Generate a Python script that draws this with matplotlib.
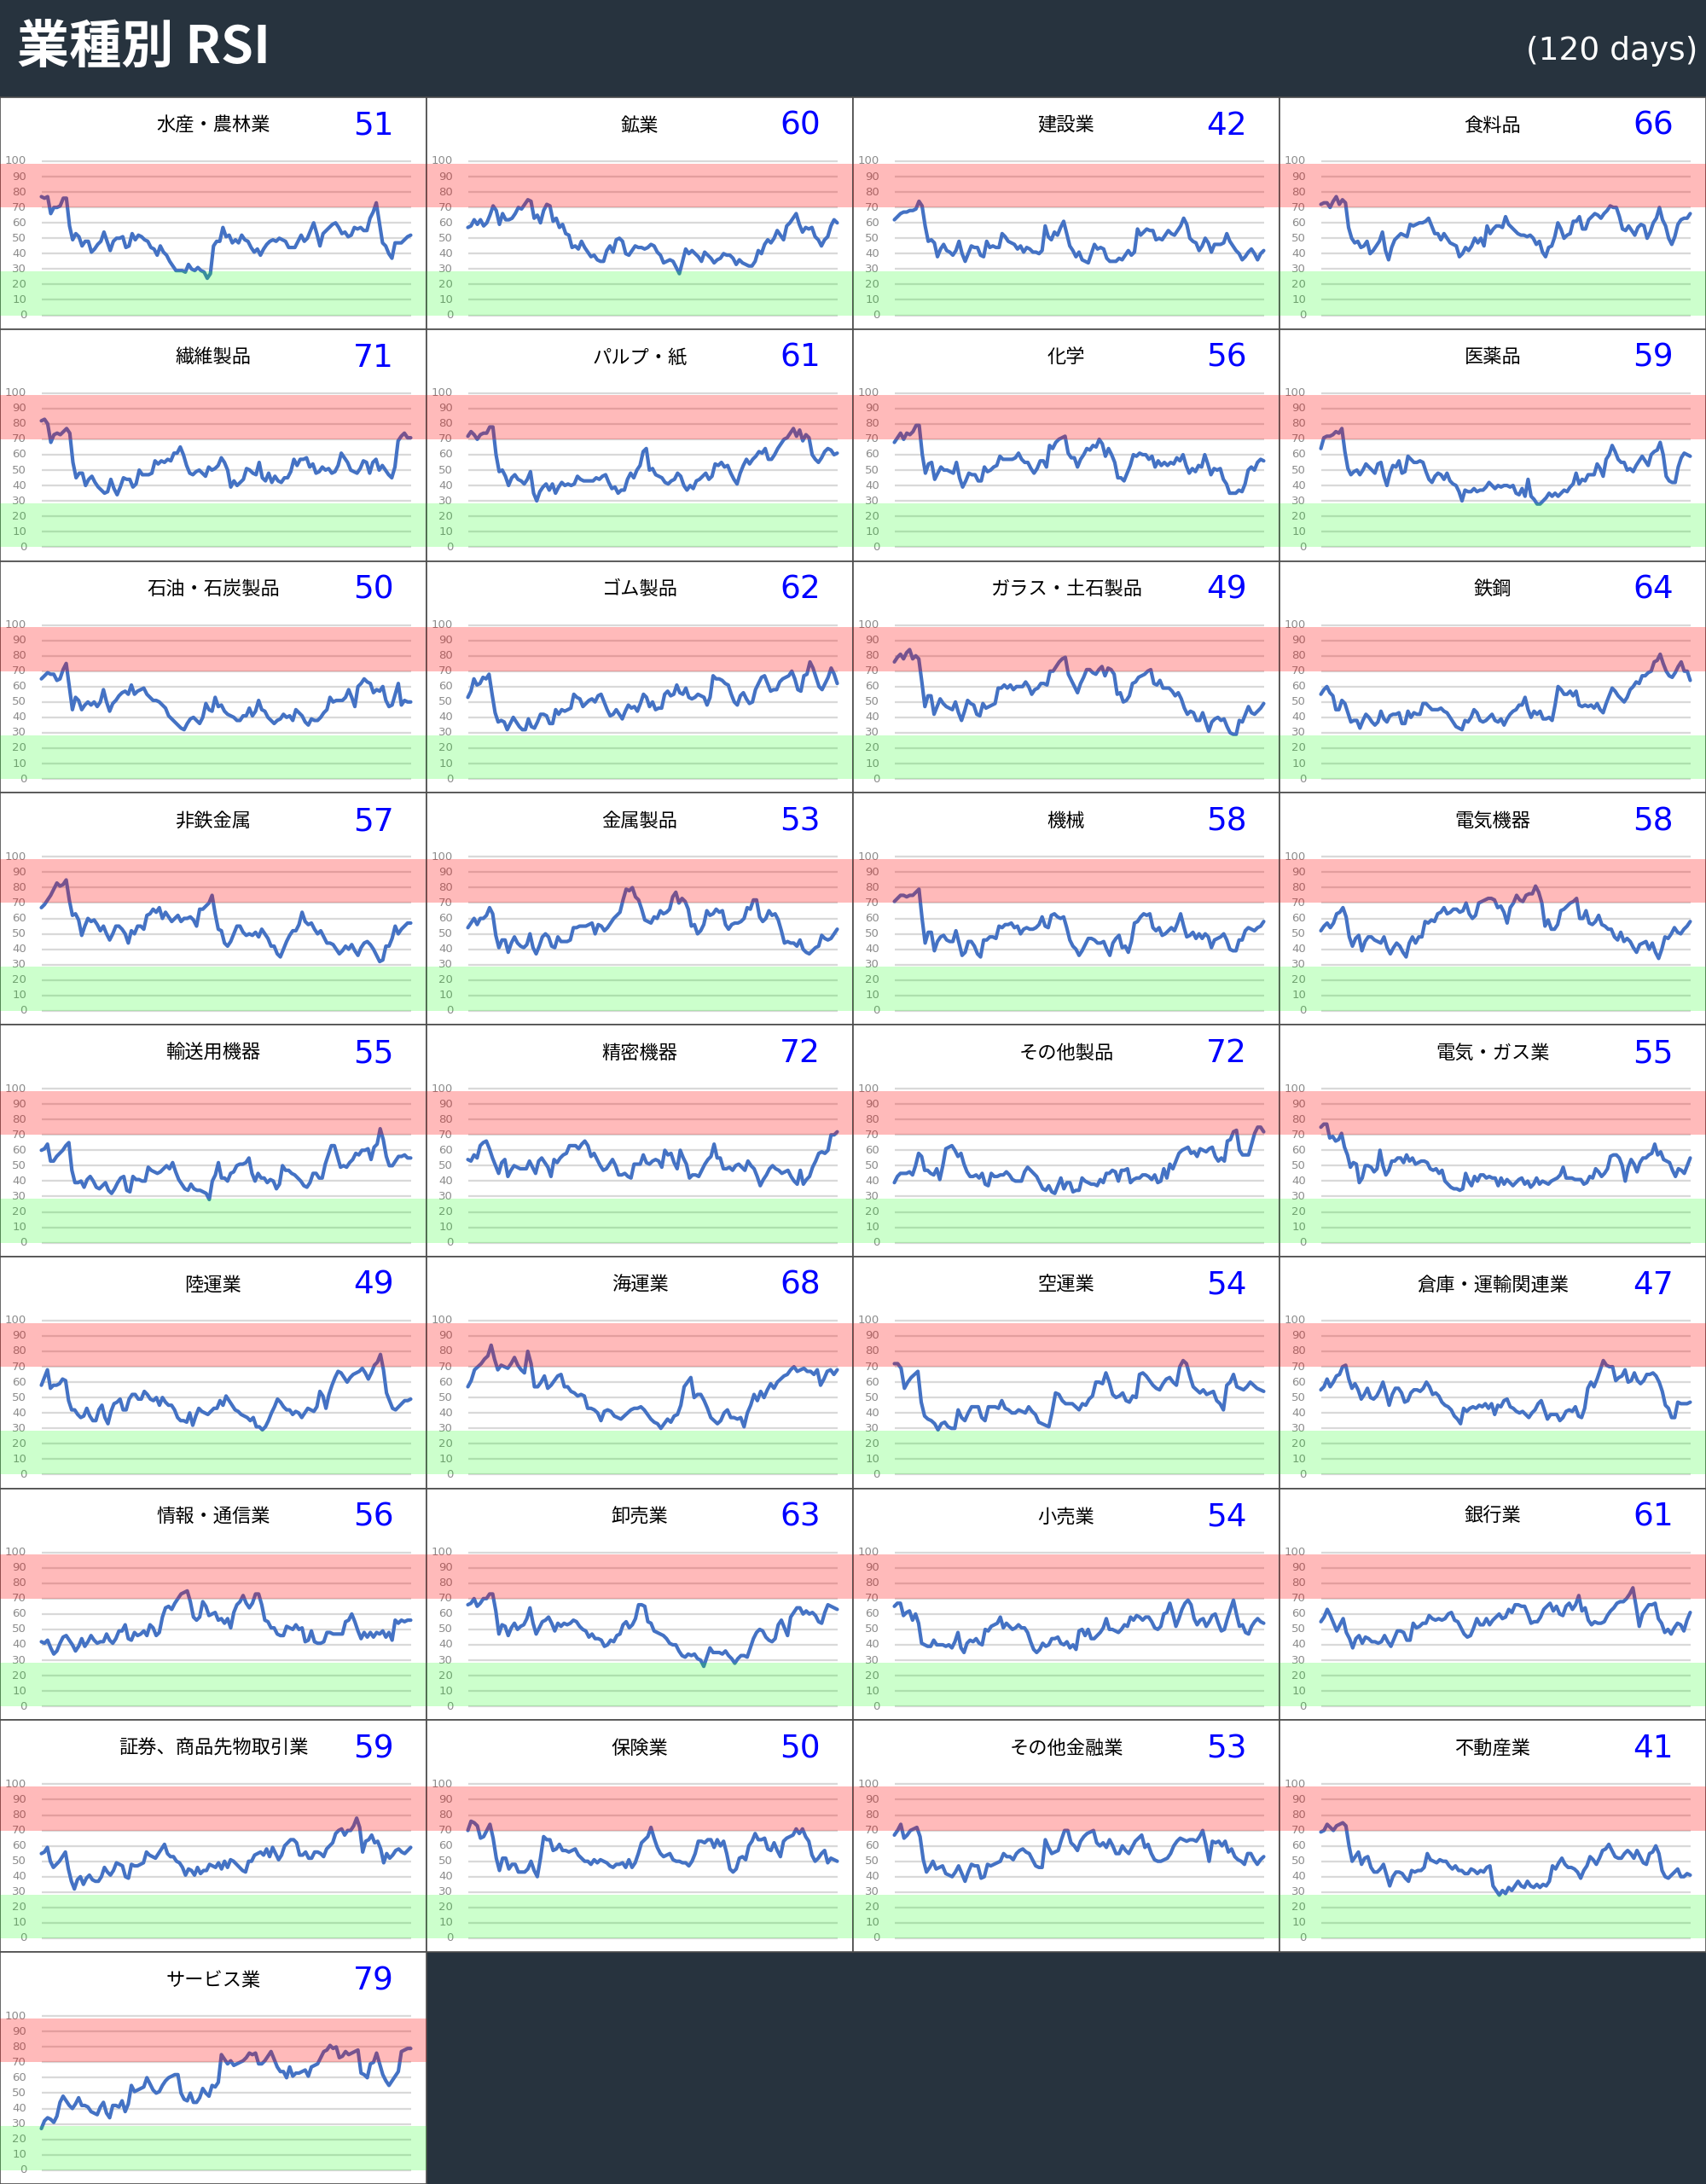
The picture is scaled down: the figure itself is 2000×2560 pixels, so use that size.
import numpy as np
import matplotlib
matplotlib.use("Agg")
import matplotlib.pyplot as plt
from matplotlib import font_manager
import matplotlib.transforms as mtransforms

# Sector names and latest RSI value shown at the top right of each panel
sectors = ["水産・農林業", "鉱業", "建設業", "食料品",
           "繊維製品", "パルプ・紙", "化学", "医薬品",
           "石油・石炭製品", "ゴム製品", "ガラス・土石製品", "鉄鋼",
           "非鉄金属", "金属製品", "機械", "電気機器",
           "輸送用機器", "精密機器", "その他製品", "電気・ガス業",
           "陸運業", "海運業", "空運業", "倉庫・運輸関連業",
           "情報・通信業", "卸売業", "小売業", "銀行業",
           "証券、商品先物取引業", "保険業", "その他金融業", "不動産業",
           "サービス業"]
latest = [51, 60, 42, 66, 71, 61, 56, 59, 50, 62, 49, 64, 57, 53, 58, 58,
          55, 72, 72, 55, 49, 68, 54, 47, 56, 63, 54, 61, 59, 50, 53, 41, 79]

# RSI over the last 120 days, one list per sector
rsi_01 = [77, 76, 77, 66, 70, 70, 71, 76, 76, 58, 49, 53, 51, 45, 48, 48, 41, 43, 46, 48, 54, 48, 42, 48, 50, 50, 51, 44, 45, 53, 49, 52, 51, 49, 48, 44, 43, 39, 45, 41, 39, 35, 32, 29, 29, 29, 28, 33, 30, 29, 31, 29, 28, 24, 27, 45, 48, 48, 57, 51, 52, 47, 49, 47, 52, 49, 48, 44, 41, 43, 39, 43, 46, 48, 49, 48, 50, 49, 48, 44, 44, 44, 48, 52, 48, 50, 55, 60, 53, 45, 53, 55, 57, 59, 60, 57, 53, 54, 51, 52, 57, 56, 57, 55, 55, 63, 67, 73, 60, 47, 45, 40, 37, 47, 47, 47, 49, 51, 52]
rsi_02 = [57, 58, 62, 59, 62, 58, 60, 65, 71, 68, 59, 66, 62, 62, 63, 66, 70, 69, 72, 75, 74, 63, 65, 60, 68, 72, 71, 61, 63, 57, 59, 53, 52, 44, 45, 43, 48, 44, 41, 38, 39, 36, 35, 35, 42, 45, 41, 49, 50, 48, 40, 39, 42, 45, 44, 44, 43, 44, 46, 45, 41, 39, 34, 35, 36, 35, 31, 27, 35, 43, 40, 42, 40, 38, 35, 41, 39, 37, 34, 36, 37, 40, 39, 39, 37, 33, 36, 34, 33, 32, 32, 35, 42, 40, 46, 49, 47, 50, 55, 52, 49, 58, 60, 63, 66, 59, 54, 57, 56, 57, 51, 49, 45, 49, 51, 58, 62, 60]
rsi_03 = [62, 64, 66, 67, 67, 68, 68, 69, 74, 71, 58, 48, 49, 47, 38, 43, 46, 42, 41, 39, 42, 48, 40, 35, 40, 45, 44, 44, 39, 38, 48, 44, 45, 44, 44, 53, 51, 48, 47, 46, 43, 45, 41, 44, 43, 41, 41, 40, 42, 58, 51, 49, 54, 52, 57, 61, 53, 45, 42, 38, 41, 36, 35, 34, 40, 46, 43, 44, 43, 37, 35, 35, 35, 37, 36, 39, 42, 39, 41, 56, 52, 54, 56, 55, 55, 49, 50, 49, 52, 55, 53, 52, 55, 58, 63, 59, 50, 48, 47, 42, 45, 50, 47, 41, 46, 46, 46, 47, 53, 48, 45, 42, 40, 36, 38, 41, 43, 40, 36, 40, 42]
rsi_04 = [72, 73, 73, 70, 74, 77, 72, 75, 73, 57, 50, 47, 48, 44, 45, 48, 40, 42, 45, 48, 54, 42, 36, 44, 49, 51, 53, 52, 51, 59, 58, 59, 60, 60, 61, 63, 58, 53, 53, 49, 53, 50, 47, 46, 45, 38, 40, 44, 42, 45, 50, 47, 50, 45, 58, 53, 56, 58, 58, 57, 64, 59, 57, 55, 53, 52, 52, 51, 52, 50, 46, 48, 41, 38, 44, 45, 51, 60, 56, 50, 52, 53, 61, 61, 64, 56, 56, 62, 64, 66, 65, 63, 66, 68, 71, 70, 70, 64, 56, 55, 58, 55, 52, 57, 59, 58, 50, 54, 60, 63, 70, 62, 58, 50, 46, 51, 59, 62, 63, 63, 66]
rsi_05 = [82, 83, 80, 68, 73, 74, 73, 75, 77, 74, 55, 45, 48, 48, 40, 44, 46, 42, 39, 37, 35, 36, 44, 38, 34, 39, 45, 44, 44, 39, 41, 50, 47, 47, 47, 48, 56, 54, 56, 55, 57, 56, 61, 61, 65, 60, 53, 48, 47, 49, 50, 48, 46, 52, 50, 51, 53, 58, 55, 50, 39, 43, 40, 42, 44, 51, 50, 48, 47, 55, 45, 43, 48, 42, 46, 43, 42, 45, 45, 49, 57, 53, 57, 57, 58, 52, 54, 48, 49, 52, 50, 51, 48, 49, 53, 61, 58, 55, 50, 49, 48, 51, 56, 55, 48, 55, 57, 50, 53, 50, 47, 45, 52, 69, 72, 74, 71, 71]
rsi_06 = [72, 75, 73, 70, 73, 74, 74, 78, 78, 60, 49, 50, 46, 40, 45, 47, 44, 43, 41, 44, 49, 35, 30, 36, 39, 41, 37, 41, 35, 39, 42, 40, 41, 40, 41, 46, 44, 43, 43, 43, 43, 45, 44, 46, 47, 42, 38, 39, 35, 37, 37, 44, 48, 45, 50, 53, 62, 64, 50, 51, 47, 46, 45, 42, 41, 43, 44, 48, 46, 40, 37, 40, 38, 43, 44, 46, 48, 44, 46, 54, 53, 55, 52, 53, 48, 44, 41, 48, 53, 57, 54, 57, 59, 62, 61, 64, 57, 57, 60, 64, 67, 70, 71, 74, 77, 72, 76, 69, 73, 71, 60, 57, 55, 58, 62, 64, 63, 60, 61]
rsi_07 = [68, 71, 74, 70, 74, 73, 75, 79, 79, 60, 48, 54, 55, 44, 48, 52, 50, 50, 49, 48, 55, 45, 39, 43, 48, 47, 47, 43, 43, 52, 49, 50, 52, 53, 59, 57, 57, 57, 57, 58, 61, 57, 55, 55, 51, 48, 51, 56, 56, 52, 66, 64, 68, 70, 71, 72, 61, 58, 58, 52, 57, 60, 64, 63, 66, 65, 70, 67, 59, 64, 60, 55, 45, 45, 43, 48, 53, 60, 59, 61, 60, 60, 57, 59, 52, 56, 53, 55, 53, 55, 54, 58, 56, 60, 53, 48, 51, 49, 53, 52, 60, 54, 47, 51, 50, 51, 44, 41, 35, 35, 35, 37, 36, 41, 50, 52, 50, 55, 57, 56]
rsi_08 = [64, 71, 72, 72, 73, 75, 74, 77, 62, 51, 47, 49, 50, 47, 50, 54, 52, 50, 48, 54, 55, 46, 40, 48, 53, 52, 56, 48, 49, 59, 57, 55, 55, 56, 55, 49, 44, 42, 46, 48, 47, 44, 48, 43, 41, 40, 36, 30, 37, 36, 36, 38, 36, 37, 37, 39, 42, 40, 38, 40, 39, 40, 40, 39, 40, 35, 34, 38, 33, 44, 33, 31, 28, 28, 30, 32, 35, 33, 35, 33, 35, 37, 36, 39, 41, 48, 41, 44, 43, 47, 47, 47, 54, 51, 46, 57, 60, 66, 62, 57, 55, 55, 50, 51, 49, 53, 56, 59, 56, 53, 60, 62, 63, 68, 60, 46, 43, 42, 42, 52, 58, 61, 60, 59]
rsi_09 = [65, 67, 69, 68, 68, 64, 65, 71, 75, 60, 45, 53, 51, 45, 48, 50, 48, 50, 47, 50, 58, 50, 44, 49, 51, 54, 56, 57, 55, 61, 55, 57, 58, 59, 55, 53, 51, 51, 50, 48, 46, 41, 39, 37, 35, 33, 32, 36, 39, 40, 38, 36, 40, 49, 45, 44, 53, 47, 48, 44, 42, 41, 40, 38, 38, 41, 41, 46, 41, 44, 51, 45, 44, 40, 38, 36, 38, 39, 42, 40, 41, 38, 45, 43, 41, 37, 35, 39, 38, 38, 40, 43, 45, 53, 50, 51, 51, 51, 53, 58, 53, 47, 60, 62, 65, 63, 62, 56, 58, 57, 60, 51, 47, 48, 55, 62, 48, 51, 50, 50]
rsi_10 = [53, 57, 65, 61, 62, 66, 65, 68, 55, 43, 37, 38, 37, 32, 36, 40, 37, 34, 32, 32, 39, 34, 33, 37, 42, 42, 41, 36, 36, 45, 42, 45, 44, 45, 46, 55, 53, 52, 47, 49, 51, 52, 50, 54, 55, 50, 45, 41, 42, 45, 42, 39, 44, 48, 46, 47, 44, 49, 55, 53, 47, 50, 45, 46, 46, 55, 57, 54, 55, 61, 56, 55, 59, 53, 52, 53, 55, 54, 53, 48, 53, 67, 65, 65, 64, 62, 61, 55, 50, 48, 54, 56, 52, 49, 50, 58, 62, 66, 67, 62, 57, 58, 58, 63, 65, 66, 67, 70, 65, 58, 57, 67, 68, 76, 72, 66, 60, 58, 62, 66, 72, 68, 62]
rsi_11 = [76, 79, 81, 78, 82, 84, 78, 80, 78, 63, 47, 54, 54, 42, 47, 52, 49, 47, 46, 45, 50, 43, 38, 44, 51, 49, 48, 42, 41, 49, 46, 47, 48, 49, 59, 59, 61, 59, 61, 58, 60, 60, 60, 63, 60, 55, 58, 59, 62, 62, 61, 70, 70, 73, 76, 78, 79, 68, 64, 60, 56, 62, 66, 71, 71, 69, 68, 71, 73, 67, 72, 71, 68, 55, 56, 50, 51, 54, 62, 63, 66, 67, 68, 70, 71, 62, 61, 64, 59, 59, 59, 57, 54, 56, 52, 46, 42, 44, 43, 38, 38, 43, 37, 31, 37, 39, 40, 38, 39, 34, 30, 29, 29, 38, 37, 42, 47, 43, 42, 44, 46, 49]
rsi_12 = [55, 58, 60, 56, 54, 45, 45, 51, 49, 43, 37, 38, 38, 33, 38, 42, 40, 37, 35, 37, 44, 39, 37, 41, 42, 42, 43, 36, 36, 44, 40, 43, 42, 42, 49, 49, 47, 45, 45, 45, 46, 44, 43, 40, 37, 34, 33, 32, 38, 37, 40, 45, 43, 38, 37, 38, 40, 42, 38, 37, 39, 35, 39, 42, 44, 45, 48, 48, 53, 45, 40, 44, 42, 44, 39, 39, 40, 38, 48, 60, 58, 55, 55, 57, 54, 57, 48, 47, 48, 47, 48, 46, 49, 45, 43, 49, 54, 59, 57, 54, 52, 50, 53, 58, 60, 63, 62, 67, 67, 69, 70, 76, 77, 81, 75, 70, 67, 66, 69, 73, 76, 70, 70, 64]
rsi_13 = [67, 69, 72, 75, 79, 83, 81, 82, 85, 72, 62, 63, 59, 49, 55, 60, 58, 59, 56, 52, 55, 50, 46, 50, 55, 55, 53, 50, 44, 52, 50, 55, 55, 53, 62, 63, 66, 64, 67, 60, 64, 61, 58, 60, 62, 58, 60, 60, 61, 59, 55, 66, 66, 68, 70, 75, 63, 53, 52, 44, 42, 45, 50, 55, 55, 51, 49, 50, 49, 51, 48, 53, 50, 47, 42, 42, 37, 35, 40, 45, 49, 52, 52, 56, 64, 58, 56, 57, 53, 50, 52, 48, 44, 44, 43, 40, 37, 39, 42, 40, 43, 39, 36, 41, 44, 45, 43, 40, 36, 32, 33, 42, 42, 47, 55, 50, 53, 55, 57, 57]
rsi_14 = [54, 57, 60, 56, 60, 60, 62, 67, 63, 49, 41, 46, 46, 38, 44, 48, 44, 42, 41, 43, 50, 41, 37, 42, 48, 50, 48, 42, 41, 48, 45, 45, 45, 46, 54, 54, 55, 55, 55, 56, 57, 50, 56, 55, 52, 54, 57, 60, 62, 64, 72, 79, 78, 80, 74, 72, 66, 59, 58, 57, 61, 60, 65, 63, 64, 66, 74, 77, 70, 73, 71, 66, 55, 56, 50, 52, 56, 65, 62, 63, 66, 64, 65, 56, 53, 56, 57, 57, 58, 60, 67, 66, 72, 72, 61, 58, 60, 65, 62, 63, 59, 52, 44, 45, 44, 44, 42, 46, 40, 38, 37, 39, 41, 42, 49, 47, 46, 47, 50, 53]
rsi_15 = [71, 73, 75, 75, 74, 75, 75, 77, 79, 60, 44, 51, 51, 39, 45, 48, 49, 46, 45, 45, 52, 44, 36, 38, 45, 45, 42, 37, 35, 46, 46, 48, 48, 47, 55, 54, 56, 56, 57, 54, 55, 50, 53, 54, 53, 53, 54, 56, 61, 55, 54, 62, 63, 61, 60, 61, 54, 46, 42, 40, 36, 39, 43, 47, 47, 46, 44, 44, 45, 40, 36, 44, 47, 49, 41, 42, 38, 45, 57, 58, 61, 63, 62, 63, 54, 52, 54, 49, 50, 52, 54, 52, 57, 63, 55, 48, 49, 51, 47, 50, 47, 50, 48, 41, 46, 47, 48, 50, 46, 40, 39, 39, 46, 46, 52, 54, 53, 52, 54, 55, 58]
rsi_16 = [52, 55, 57, 54, 57, 63, 64, 67, 61, 48, 42, 47, 49, 39, 45, 48, 48, 46, 45, 44, 48, 41, 37, 41, 44, 42, 38, 35, 44, 48, 44, 48, 48, 58, 57, 59, 58, 63, 64, 67, 63, 64, 66, 66, 64, 65, 70, 63, 60, 62, 70, 71, 72, 73, 73, 72, 67, 68, 64, 57, 67, 70, 75, 72, 71, 75, 76, 76, 81, 77, 70, 55, 59, 53, 53, 56, 65, 66, 68, 70, 71, 73, 60, 60, 65, 57, 56, 58, 62, 56, 55, 53, 53, 48, 46, 51, 45, 47, 45, 41, 38, 43, 44, 45, 40, 44, 38, 34, 40, 48, 47, 50, 54, 51, 50, 53, 55, 58]
rsi_17 = [60, 61, 64, 53, 53, 56, 58, 60, 63, 65, 47, 39, 39, 40, 36, 41, 43, 40, 36, 35, 37, 39, 34, 32, 35, 39, 42, 43, 34, 33, 43, 41, 41, 40, 40, 49, 47, 46, 45, 46, 48, 50, 48, 52, 46, 41, 38, 35, 34, 38, 35, 34, 34, 33, 32, 28, 40, 44, 52, 42, 42, 40, 45, 46, 50, 51, 51, 52, 55, 45, 40, 45, 42, 42, 39, 41, 40, 35, 38, 50, 47, 47, 45, 44, 42, 40, 37, 36, 39, 45, 45, 42, 42, 51, 57, 63, 63, 56, 49, 50, 49, 52, 54, 58, 57, 60, 60, 61, 54, 62, 64, 74, 67, 56, 50, 50, 53, 56, 56, 57, 55, 55]
rsi_18 = [54, 53, 57, 55, 63, 65, 66, 61, 55, 50, 45, 52, 54, 43, 47, 50, 49, 48, 48, 48, 53, 49, 45, 53, 55, 52, 49, 43, 54, 52, 55, 57, 58, 63, 63, 63, 61, 64, 66, 63, 56, 58, 54, 50, 47, 48, 51, 54, 50, 44, 44, 45, 43, 42, 51, 51, 51, 57, 52, 51, 53, 54, 53, 49, 60, 57, 58, 52, 48, 60, 55, 51, 42, 44, 44, 43, 47, 51, 54, 56, 64, 55, 55, 48, 48, 49, 47, 50, 51, 49, 47, 53, 50, 48, 43, 37, 41, 44, 48, 50, 48, 47, 45, 46, 47, 43, 40, 38, 47, 38, 41, 43, 49, 53, 58, 59, 58, 60, 70, 70, 72]
rsi_19 = [39, 43, 45, 45, 45, 46, 44, 50, 58, 56, 47, 47, 45, 44, 48, 41, 50, 61, 62, 63, 60, 56, 58, 51, 46, 43, 43, 44, 42, 45, 38, 37, 45, 43, 43, 44, 44, 46, 44, 41, 40, 40, 40, 46, 49, 47, 45, 43, 39, 35, 34, 37, 33, 32, 37, 42, 35, 39, 39, 33, 34, 34, 42, 40, 39, 38, 38, 37, 41, 39, 45, 45, 47, 46, 40, 47, 47, 48, 39, 41, 42, 42, 44, 44, 43, 41, 44, 39, 40, 48, 42, 51, 48, 53, 58, 60, 61, 62, 58, 59, 56, 61, 60, 59, 61, 62, 56, 53, 55, 53, 66, 67, 72, 73, 60, 57, 57, 57, 64, 71, 75, 75, 72]
rsi_20 = [75, 77, 77, 68, 69, 66, 67, 71, 62, 57, 49, 52, 51, 39, 42, 50, 50, 49, 46, 48, 60, 50, 44, 47, 53, 53, 55, 55, 52, 57, 53, 55, 51, 52, 53, 53, 52, 48, 47, 48, 45, 47, 40, 38, 36, 35, 35, 34, 35, 45, 40, 37, 43, 40, 44, 44, 42, 43, 42, 42, 37, 42, 38, 41, 39, 37, 39, 41, 42, 38, 40, 36, 38, 42, 38, 40, 39, 38, 40, 41, 42, 44, 49, 42, 42, 42, 41, 41, 41, 38, 39, 43, 42, 48, 46, 43, 45, 48, 56, 57, 57, 55, 50, 40, 49, 54, 51, 46, 52, 55, 55, 57, 58, 64, 57, 59, 54, 53, 52, 47, 43, 48, 47, 45, 50, 55]
rsi_21 = [58, 63, 68, 56, 58, 58, 59, 62, 61, 48, 42, 42, 39, 37, 38, 43, 38, 35, 35, 42, 45, 37, 33, 41, 46, 47, 49, 42, 42, 49, 52, 52, 49, 49, 54, 52, 49, 48, 50, 45, 50, 47, 45, 45, 42, 37, 35, 35, 34, 40, 32, 38, 43, 41, 40, 39, 41, 43, 43, 48, 45, 51, 48, 45, 42, 41, 39, 38, 37, 35, 37, 31, 31, 29, 31, 35, 40, 44, 49, 47, 44, 42, 42, 39, 41, 40, 37, 40, 43, 42, 41, 44, 54, 51, 43, 52, 58, 63, 67, 66, 63, 60, 63, 65, 66, 67, 69, 66, 62, 66, 71, 73, 78, 68, 53, 48, 43, 42, 44, 46, 48, 48, 49]
rsi_22 = [57, 61, 68, 70, 72, 75, 77, 84, 75, 68, 71, 70, 69, 72, 76, 71, 68, 66, 80, 72, 57, 57, 60, 64, 56, 58, 61, 64, 65, 57, 57, 54, 53, 51, 52, 51, 43, 43, 42, 40, 35, 41, 42, 41, 38, 37, 36, 38, 40, 42, 43, 43, 44, 42, 39, 36, 34, 33, 30, 33, 36, 34, 38, 39, 45, 57, 60, 63, 50, 52, 52, 48, 43, 37, 35, 33, 35, 40, 42, 37, 37, 36, 37, 31, 40, 45, 52, 48, 54, 50, 55, 59, 56, 60, 62, 64, 65, 68, 70, 67, 68, 69, 67, 67, 65, 68, 58, 62, 67, 68, 65, 68]
rsi_23 = [72, 72, 69, 56, 60, 63, 65, 67, 47, 38, 36, 35, 33, 29, 33, 34, 31, 30, 30, 42, 37, 35, 40, 44, 44, 44, 37, 35, 44, 44, 44, 43, 48, 43, 42, 40, 40, 42, 41, 40, 44, 41, 39, 34, 33, 32, 31, 41, 53, 52, 48, 46, 46, 46, 44, 42, 46, 45, 49, 51, 60, 60, 59, 66, 60, 52, 50, 51, 53, 48, 47, 51, 50, 65, 66, 64, 61, 58, 56, 55, 59, 62, 63, 60, 58, 70, 74, 72, 64, 57, 55, 53, 55, 52, 53, 54, 48, 46, 42, 58, 60, 65, 57, 56, 55, 57, 60, 58, 56, 55, 54]
rsi_24 = [55, 57, 62, 57, 60, 64, 65, 70, 71, 62, 56, 59, 55, 49, 52, 56, 50, 49, 51, 55, 60, 53, 45, 52, 56, 56, 53, 47, 48, 53, 55, 55, 54, 56, 60, 57, 52, 53, 51, 47, 45, 44, 42, 38, 36, 33, 43, 41, 43, 44, 43, 45, 44, 46, 43, 46, 39, 45, 44, 48, 49, 44, 43, 41, 40, 41, 39, 37, 40, 42, 46, 48, 42, 36, 39, 39, 39, 35, 37, 41, 42, 41, 44, 38, 37, 43, 56, 60, 57, 62, 68, 74, 71, 70, 70, 61, 63, 64, 68, 60, 61, 66, 61, 59, 61, 65, 65, 66, 64, 60, 54, 45, 43, 37, 37, 47, 46, 46, 46, 47]
rsi_25 = [42, 41, 43, 38, 34, 36, 41, 45, 46, 43, 40, 36, 39, 44, 39, 42, 46, 43, 41, 42, 42, 47, 43, 41, 44, 49, 49, 53, 44, 43, 48, 46, 47, 49, 46, 53, 51, 46, 48, 58, 64, 65, 63, 67, 70, 73, 74, 75, 68, 58, 56, 58, 68, 65, 59, 60, 61, 56, 57, 54, 57, 51, 61, 66, 68, 72, 67, 64, 67, 73, 73, 66, 56, 55, 51, 51, 47, 46, 46, 52, 51, 50, 53, 50, 51, 42, 43, 49, 42, 41, 41, 42, 48, 48, 47, 47, 47, 47, 55, 56, 60, 55, 49, 44, 48, 45, 48, 45, 48, 47, 49, 45, 48, 43, 56, 54, 56, 55, 56, 56]
rsi_26 = [66, 67, 70, 65, 67, 70, 70, 73, 73, 62, 47, 53, 52, 46, 51, 54, 50, 52, 53, 57, 64, 54, 47, 51, 55, 56, 58, 54, 49, 54, 52, 54, 53, 54, 56, 55, 52, 50, 49, 45, 47, 44, 44, 43, 39, 40, 43, 42, 46, 47, 53, 55, 51, 53, 57, 66, 66, 65, 55, 54, 49, 48, 47, 46, 44, 41, 40, 40, 36, 33, 32, 34, 33, 34, 31, 30, 26, 32, 38, 35, 35, 35, 34, 36, 33, 31, 28, 31, 33, 33, 32, 38, 44, 48, 50, 49, 45, 43, 42, 44, 53, 56, 51, 46, 58, 61, 64, 64, 60, 62, 60, 61, 59, 55, 54, 61, 66, 65, 64, 63]
rsi_27 = [65, 67, 67, 59, 61, 62, 56, 60, 54, 41, 40, 39, 39, 43, 40, 40, 40, 39, 40, 38, 42, 48, 38, 35, 41, 43, 42, 44, 41, 40, 50, 49, 52, 53, 54, 58, 51, 54, 52, 50, 51, 53, 51, 51, 48, 42, 37, 35, 37, 41, 39, 40, 44, 44, 45, 41, 40, 42, 38, 40, 37, 49, 50, 46, 50, 44, 44, 46, 48, 51, 57, 50, 50, 49, 48, 50, 53, 52, 58, 56, 59, 58, 56, 58, 58, 55, 51, 50, 52, 60, 61, 67, 60, 52, 57, 63, 67, 69, 66, 57, 53, 56, 57, 52, 55, 59, 60, 54, 49, 50, 57, 63, 69, 60, 52, 53, 48, 47, 52, 55, 57, 55, 54]
rsi_28 = [55, 58, 63, 59, 54, 49, 53, 57, 48, 44, 38, 44, 46, 41, 45, 44, 42, 42, 41, 42, 46, 42, 39, 44, 49, 49, 48, 43, 43, 54, 51, 52, 54, 54, 59, 57, 56, 57, 56, 57, 60, 61, 56, 55, 51, 47, 45, 46, 51, 57, 53, 53, 57, 53, 56, 58, 60, 57, 58, 63, 61, 66, 66, 65, 65, 60, 54, 55, 55, 58, 63, 65, 67, 62, 65, 60, 59, 65, 67, 63, 66, 72, 62, 64, 56, 53, 55, 54, 54, 55, 59, 62, 64, 67, 68, 68, 70, 73, 77, 65, 52, 60, 63, 66, 66, 67, 57, 54, 48, 50, 47, 51, 54, 53, 49, 56, 61]
rsi_29 = [55, 56, 59, 50, 46, 48, 50, 53, 56, 45, 37, 32, 38, 40, 35, 39, 41, 38, 37, 37, 40, 46, 43, 41, 44, 49, 48, 47, 40, 39, 48, 47, 47, 48, 49, 56, 54, 53, 52, 55, 58, 61, 55, 53, 53, 50, 49, 46, 41, 45, 44, 41, 46, 42, 44, 44, 48, 47, 46, 49, 45, 50, 46, 51, 50, 48, 46, 44, 43, 50, 50, 54, 55, 56, 54, 58, 53, 59, 55, 51, 54, 60, 62, 64, 64, 62, 54, 54, 56, 52, 52, 56, 56, 55, 53, 58, 60, 62, 68, 70, 71, 67, 70, 70, 73, 78, 72, 56, 63, 64, 67, 62, 63, 58, 49, 55, 52, 54, 57, 58, 56, 55, 57, 59]
rsi_30 = [70, 76, 75, 73, 65, 66, 70, 74, 65, 52, 44, 52, 52, 45, 48, 48, 43, 43, 43, 45, 50, 44, 40, 52, 66, 64, 64, 57, 58, 61, 57, 57, 56, 57, 58, 54, 52, 50, 50, 48, 51, 49, 51, 50, 49, 47, 46, 48, 48, 49, 46, 51, 46, 49, 55, 62, 64, 66, 72, 65, 59, 55, 53, 54, 55, 51, 50, 50, 49, 49, 47, 50, 55, 63, 63, 62, 64, 64, 59, 64, 60, 63, 55, 45, 43, 45, 52, 53, 51, 60, 63, 68, 64, 64, 65, 58, 57, 62, 57, 53, 63, 65, 66, 67, 71, 68, 71, 66, 63, 54, 50, 52, 55, 57, 49, 52, 51, 50]
rsi_31 = [67, 70, 74, 65, 67, 70, 71, 72, 66, 51, 43, 46, 50, 45, 46, 47, 42, 41, 40, 43, 47, 42, 37, 43, 48, 47, 47, 39, 40, 48, 47, 48, 49, 50, 55, 53, 53, 51, 55, 57, 58, 56, 55, 51, 47, 46, 46, 64, 59, 55, 56, 57, 64, 70, 70, 62, 60, 57, 63, 66, 68, 69, 70, 62, 60, 62, 59, 64, 60, 55, 55, 60, 57, 55, 59, 63, 65, 67, 59, 61, 55, 51, 50, 50, 51, 52, 55, 60, 63, 65, 64, 63, 64, 64, 63, 66, 70, 61, 50, 63, 62, 63, 60, 63, 56, 58, 53, 51, 50, 48, 55, 55, 51, 48, 51, 53]
rsi_32 = [69, 70, 74, 72, 70, 73, 74, 75, 73, 60, 50, 53, 56, 48, 52, 53, 46, 43, 43, 45, 48, 41, 34, 40, 43, 43, 42, 39, 37, 44, 43, 44, 44, 46, 55, 51, 50, 49, 51, 50, 50, 47, 45, 47, 44, 44, 42, 42, 45, 44, 42, 44, 43, 46, 47, 34, 31, 28, 31, 29, 33, 31, 34, 37, 34, 33, 37, 34, 33, 35, 33, 35, 34, 37, 47, 45, 49, 52, 48, 46, 46, 45, 43, 39, 44, 47, 53, 51, 48, 52, 57, 58, 61, 57, 53, 52, 52, 55, 57, 55, 52, 57, 53, 49, 48, 55, 56, 60, 55, 44, 40, 39, 41, 43, 45, 40, 40, 42, 41]
rsi_33 = [27, 32, 34, 33, 31, 35, 44, 48, 45, 42, 40, 43, 47, 42, 42, 41, 38, 37, 36, 41, 44, 37, 34, 42, 42, 41, 45, 38, 43, 55, 51, 52, 53, 54, 60, 56, 52, 50, 51, 55, 58, 60, 61, 62, 62, 50, 46, 45, 50, 44, 44, 47, 53, 50, 48, 55, 54, 57, 75, 72, 69, 71, 68, 69, 70, 71, 73, 76, 75, 76, 69, 69, 71, 74, 77, 72, 67, 64, 64, 60, 67, 61, 63, 63, 64, 65, 61, 67, 68, 69, 73, 77, 78, 81, 79, 80, 73, 74, 77, 75, 76, 77, 78, 63, 62, 60, 69, 70, 76, 69, 62, 58, 55, 58, 61, 64, 77, 78, 79, 79]

series = [rsi_01, rsi_02, rsi_03, rsi_04, rsi_05, rsi_06, rsi_07, rsi_08,
          rsi_09, rsi_10, rsi_11, rsi_12, rsi_13, rsi_14, rsi_15, rsi_16,
          rsi_17, rsi_18, rsi_19, rsi_20, rsi_21, rsi_22, rsi_23, rsi_24,
          rsi_25, rsi_26, rsi_27, rsi_28, rsi_29, rsi_30, rsi_31, rsi_32,
          rsi_33]
grid_ticks = list(range(0, 101, 10))

# fonts
installed = {f.name for f in font_manager.fontManager.ttflist}
jp = "Noto Sans CJK JP"
narrow = "Liberation Sans Narrow" if "Liberation Sans Narrow" in installed else "DejaVu Sans"
plt.rcParams["font.family"] = [jp, "DejaVu Sans"]

W, H = 2000, 2560
HEADER = 114
PW = 500
PH = (H - HEADER) / 9
BG = "#27333e"

fig = plt.figure(figsize=(W / 100, H / 100), dpi=100)
fig.patch.set_facecolor(BG)

fig.text(20 / W, 1 - 56 / H, "業種別 RSI", color="white", fontsize=44,
         fontweight="bold", va="center", ha="left")
fig.text(1990 / W, 1 - 60 / H, "(120 days)", color="white", fontsize=27,
         va="center", ha="right", family=[narrow, "DejaVu Sans"])

# pixel geometry of the plotting area inside one panel
x0_px, x1_px = 48.5, 481.5
y100_px, y0_px = 75.0, 255.5
ppu = (y0_px - y100_px) / 100.0

for i, (name, vals, last) in enumerate(zip(sectors, series, latest)):
    r, c = divmod(i, 4)
    left = c * PW
    top = HEADER + r * PH
    ax = fig.add_axes([left / W, 1 - (top + PH) / H, PW / W, PH / H])
    ax.set_facecolor("white")

    n = len(vals)
    days = np.linspace(0, 119, n)
    ppx = (x1_px - x0_px) / 119
    ax.set_xlim(-x0_px / ppx, 119 + (PW - x1_px) / ppx)
    ax.set_ylim(-(PH - y0_px) / ppu, y0_px / ppu)

    ax.hlines(grid_ticks, 0, 119, color="#d9d9d9", lw=1.6, zorder=1)
    ax.plot(days, vals, color="#4472c4", lw=3.0, zorder=2,
            solid_joinstyle="round", solid_capstyle="round")
    ax.axhspan(70, 98.5, color=(1, 0, 0, 0.27), lw=0, zorder=3)
    ax.axhspan(0, 28.5, color=(0, 1, 0, 0.2), lw=0, zorder=3)

    trans = mtransforms.blended_transform_factory(ax.transAxes, ax.transData)
    for t in grid_ticks:
        ax.text(31 / PW, t, str(t), transform=trans, ha="right", va="center",
                fontsize=9.5, color="#8c8c8c", zorder=1,
                family=[narrow, "DejaVu Sans"])

    ax.text(0.5, 1 - 33 / PH, name, transform=ax.transAxes, ha="center",
            va="center", fontsize=16, color="black")
    ax.text(438 / PW, 1 - 34 / PH, str(last), transform=ax.transAxes,
            ha="center", va="center", fontsize=27, color="#0000ff",
            family=[narrow, "DejaVu Sans"])

    ax.set_xticks([])
    ax.set_yticks([])
    for sp in ax.spines.values():
        sp.set_color("#4d4d4d")
        sp.set_linewidth(1.2)

fig.savefig("out.png", dpi=100, facecolor=BG)
